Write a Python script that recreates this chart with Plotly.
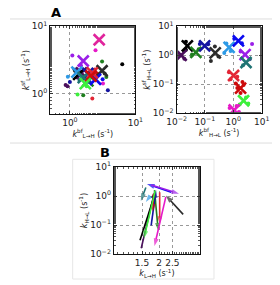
import plotly.graph_objects as go

# ---------------- data ----------------
series_names = ["dpurple", "black", "dgreen", "navy", "dgray", "lblue", "blue",
                "purple", "teal", "red", "dred", "lgreen", "magenta"]
series_colors = ["#4B0F5C", "#000000", "#1F7F1F", "#1414A0", "#2B2B2B", "#2D9AE6", "#0A0AF0",
                 "#9B1FE8", "#1F7373", "#E32636", "#CC0A0A", "#3CF03C", "#E619C8"]

# Panel A (left): k_L->H bf vs sf  (big X = summary, dots = individual)
left_x_mean = [1.5, 1.36, 1.88, 1.88, 3.1, 1.28, 2.46, 1.6, 1.6, 2.2, 2.1, 1.72, 2.8]
left_y_mean = [2.05, 1.94, 1.56, 2.0, 2.2, 2.1, 1.65, 3.06, 1.74, 2.05, 1.84, 1.42, 6.3]
left_dots_x = [[0.86, 0.92, 1.3], [6.3, 1.2], [1.6, 3.1, 3.6], [3.8, 1.0], [3.4], [0.93, 1.2],
               [3.16, 2.0], [1.09, 1.48], [1.4], [2.2, 2.4], [2.6], [1.31, 1.8], [2.46, 3.2]]
left_dots_y = [[1.35, 1.3, 1.75], [2.75, 2.2], [0.96, 3.0, 1.78], [1.13, 1.5], [2.0], [1.8, 2.3],
               [1.65, 1.5], [3.7, 2.6], [1.6], [0.86, 2.3], [2.0], [0.98, 1.3], [4.4, 1.43]]

# Panel A (right): k_H->L bf vs sf
right_x_mean = [0.0145, 0.024, 0.048, 0.098, 0.23, 0.71, 1.51, 2.6, 2.8, 1.02, 1.8, 2.3, 1.07]
right_y_mean = [1.0, 2.1, 1.26, 2.1, 1.2, 1.87, 3.1, 1.05, 0.56, 0.2, 0.074, 0.027, 0.013]
right_dots_x = [[0.0188, 0.011], [0.0214, 0.0214], [0.035, 0.06], [0.066, 0.13], [0.162, 0.224, 0.3],
                [0.48, 0.57, 0.8], [1.08, 2.0], [4.57, 1.8], [3.8, 2.2], [0.70, 1.38, 0.8],
                [1.22, 2.3, 1.8, 1.38, 2.1], [3.37, 1.67, 2.8], [0.74, 1.58, 1.3]]
right_dots_y = [[0.76, 1.2], [2.9, 1.54], [1.05, 1.6], [2.43, 2.4], [0.63, 1.99, 0.9],
                [1.19, 2.55, 1.4], [3.7, 2.6], [2.43, 1.35], [0.72, 0.45], [0.26, 0.18, 0.15],
                [0.107, 0.095, 0.05, 0.074, 0.12], [0.022, 0.02, 0.035], [0.0154, 0.0111, 0.018]]

# Panel B: arrows (k_L->H, k_H->L) start -> end
arrow_names = ["dpurple", "black", "dgreen", "navy", "dgray", "lblue", "blue",
               "purple", "teal", "red", "dred", "lgreen", "magenta"]
arrow_x0 = [1.48, 1.45, 1.85, 1.75, 3.0, 1.72, 2.45, 1.75, 1.6, 2.02, 1.82, 1.87, 2.24]
arrow_y0 = [0.016, 0.03, 1.6, 0.098, 0.234, 1.0, 1.35, 2.4, 1.96, 1.35, 1.19, 1.5, 0.93]
arrow_x1 = [1.86, 1.89, 1.97, 1.9, 2.24, 1.6, 1.63, 2.8, 1.47, 2.02, 1.8, 1.55, 1.85]
arrow_y1 = [1.5, 1.45, 0.065, 1.6, 1.05, 0.62, 2.6, 1.2, 0.67, 0.11, 0.29, 0.035, 0.019]

# tick labels
tickA_left_vals = [1, 10]
tickA_left_text = ["10<sup>0</sup>", "10<sup>1</sup>"]
tick3_vals = [0.01, 0.1, 1, 10]
tick3_text = ["10<sup>−2</sup>", "10<sup>−1</sup>", "10<sup>0</sup>", "10<sup>1</sup>"]
tickB_x_vals = [1.5, 2, 2.5]
tickB_x_text = ["1.5", "2", "2.5"]

# ---------------- figure ----------------
W, H = 280, 285
FONT = "DejaVu Sans"
fig = go.Figure()

def px(x):
    return x / W

def py(y):
    return 1 - y / H

col = dict(zip(series_names, series_colors))

# left panel A
for i, n in enumerate(series_names):
    fig.add_trace(go.Scatter(x=left_dots_x[i], y=left_dots_y[i], mode="markers",
                             marker=dict(size=4, color=series_colors[i]),
                             xaxis="x", yaxis="y", showlegend=False))
for i, n in enumerate(series_names):
    c = "#E0249C" if n == "magenta" else series_colors[i]
    fig.add_trace(go.Scatter(x=[left_x_mean[i]], y=[left_y_mean[i]], mode="markers",
                             marker=dict(size=11, symbol="x-thin-open",
                                         line=dict(width=2.6, color=c), color=c),
                             xaxis="x", yaxis="y", showlegend=False))
# right panel A
for i, n in enumerate(series_names):
    fig.add_trace(go.Scatter(x=right_dots_x[i], y=right_dots_y[i], mode="markers",
                             marker=dict(size=4, color=series_colors[i]),
                             xaxis="x2", yaxis="y2", showlegend=False))
for i, n in enumerate(series_names):
    fig.add_trace(go.Scatter(x=[right_x_mean[i]], y=[right_y_mean[i]], mode="markers",
                             marker=dict(size=11, symbol="x-thin-open",
                                         line=dict(width=2.6, color=series_colors[i]),
                                         color=series_colors[i]),
                             xaxis="x2", yaxis="y2", showlegend=False))
# panel B arrows
for i, n in enumerate(arrow_names):
    c = col[n]
    fig.add_trace(go.Scatter(x=[arrow_x0[i], arrow_x1[i]], y=[arrow_y0[i], arrow_y1[i]],
                             mode="lines+markers",
                             line=dict(color=c, width=1.6),
                             marker=dict(symbol=["circle", "arrow"], size=[0, 8],
                                         angleref="previous", color=c,
                                         line=dict(width=0)),
                             xaxis="x3", yaxis="y3", showlegend=False))

def axstyle(**kw):
    d = dict(showline=True, linecolor="#111111", linewidth=1.3, mirror="ticks",
             ticks="inside", ticklen=3, tickwidth=0.8, tickcolor="#333333", tickangle=0,
             showgrid=True, gridcolor="#999999", griddash="dot", gridwidth=1,
             zeroline=False, tickfont=dict(family=FONT, size=9, color="#222222"),
             minor=dict(ticks="inside", ticklen=1.5, tickwidth=0.6, tickcolor="#555555",
                        showgrid=False),
             title_font=dict(family=FONT, size=8, color="#222222"))
    d.update(kw)
    return d

fig.update_layout(
    width=W, height=H, margin=dict(l=0, r=0, t=0, b=0),
    paper_bgcolor="white", plot_bgcolor="white", showlegend=False,
    font=dict(family=FONT, size=9, color="#222222"),
    xaxis=axstyle(type="log", range=[-0.3, 1], domain=[px(43), px(134)], anchor="y",
                  tickvals=tickA_left_vals, ticktext=tickA_left_text,
                  title=dict(text="<i>k</i><sup>bf</sup><sub>L→H</sub> (s<sup>-1</sup>)", standoff=1)),
    yaxis=axstyle(type="log", range=[-0.3, 1], domain=[py(112), py(20)], anchor="x",
                  tickvals=tickA_left_vals, ticktext=tickA_left_text,
                  title=dict(text="<i>k</i><sup>sf</sup><sub>L→H</sub> (s<sup>-1</sup>)", standoff=1)),
    xaxis2=axstyle(type="log", range=[-2, 1], domain=[px(178), px(269)], anchor="y2",
                   tickvals=tick3_vals, ticktext=tick3_text,
                   title=dict(text="<i>k</i><sup>bf</sup><sub>H→L</sub> (s<sup>-1</sup>)", standoff=1)),
    yaxis2=axstyle(type="log", range=[-2, 1], domain=[py(111), py(20)], anchor="x2",
                   tickvals=tick3_vals, ticktext=tick3_text,
                   title=dict(text="<i>k</i><sup>sf</sup><sub>H→L</sub> (s<sup>-1</sup>)", standoff=1)),
    xaxis3=axstyle(type="log", range=[-0.03, 0.6], domain=[px(111), px(203)], anchor="y3",
                   tickvals=tickB_x_vals, ticktext=tickB_x_text,
                   title=dict(text="<i>k</i><sub>L→H</sub> (s<sup>-1</sup>)", standoff=1)),
    yaxis3=axstyle(type="log", range=[-2, 1], domain=[py(258), py(167)], anchor="x3",
                   tickvals=tick3_vals, ticktext=tick3_text,
                   title=dict(text="<i>k</i><sub>H→L</sub> (s<sup>-1</sup>)", standoff=1)),
)

# separators / panel frames
fig.add_shape(type="line", xref="paper", yref="paper", x0=0, x1=1, y0=py(12.5), y1=py(12.5),
              line=dict(color="#DDDDDD", width=1))
fig.add_shape(type="line", xref="paper", yref="paper", x0=0, x1=1, y0=py(142), y1=py(142),
              line=dict(color="#DDDDDD", width=1))
fig.add_shape(type="rect", xref="paper", yref="paper", x0=px(67), x1=px(218), y0=py(159), y1=py(284),
              line=dict(color="#E6E6E6", width=1), layer="below")

fig.add_annotation(text="<b>A</b>", xref="paper", yref="paper", x=px(49), y=py(5.5),
                   xanchor="center", yanchor="middle",
                   showarrow=False, font=dict(family=FONT, size=13, color="black"))
fig.add_annotation(text="<b>B</b>", xref="paper", yref="paper", x=px(102), y=py(151.5),
                   xanchor="center", yanchor="middle",
                   showarrow=False, font=dict(family=FONT, size=13, color="black"))

fig.write_html("out.html", config={"displayModeBar": False},
               post_script="document.body.style.margin='0';")
